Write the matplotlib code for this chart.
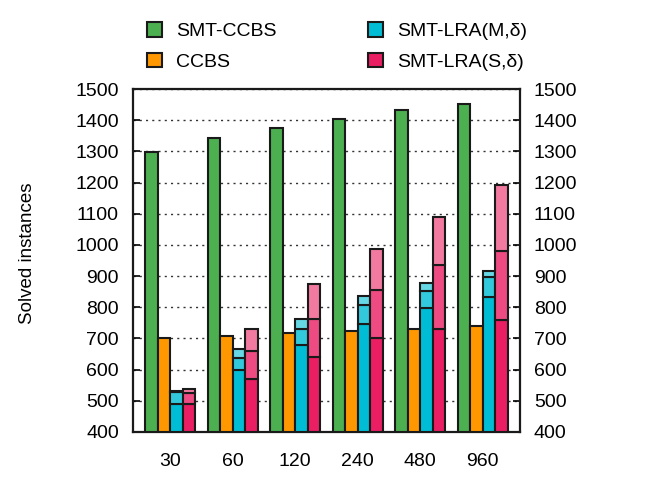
import matplotlib
matplotlib.use("Agg")
import matplotlib.pyplot as plt
import numpy as np
from matplotlib.patches import Patch

plt.rcParams['font.family'] = ['Liberation Sans', 'DejaVu Sans']

timeouts = ["30", "60", "120", "240", "480", "960"]
smt_ccbs = [1298, 1343, 1376, 1405, 1432, 1451]
ccbs = [701, 708, 718, 724, 731, 740]
# SMT-LRA(M,delta) cumulative levels (bottom segment top, middle top, total)
lra_m_lvl1 = [491, 598, 678, 745, 799, 832]
lra_m_lvl2 = [528, 636, 730, 808, 853, 897]
lra_m_lvl3 = [532, 665, 762, 836, 877, 916]
# SMT-LRA(S,delta)
lra_s_lvl1 = [491, 571, 639, 702, 730, 759]
lra_s_lvl2 = [524, 660, 761, 855, 934, 982]
lra_s_lvl3 = [538, 730, 876, 988, 1090, 1193]

green = "#4CAF50"
orange = "#FF9800"
cyan = ["#00BCD4", "#33C9DC", "#66D7E5"]
pink = ["#E91E63", "#ED4B82", "#F27AA0"]
edge = "#1a1a1a"
fs = 14

fig = plt.figure(figsize=(6.58, 4.96), dpi=100)
ax = fig.add_axes([132.7/658, 1 - 432/496, (520-132.7)/658, (432-89)/496])

x = np.arange(len(timeouts))
w = 0.2
base = 400
kw = dict(width=w, edgecolor=edge, linewidth=1.5, zorder=3)

ax.bar(x - 1.5*w, np.array(smt_ccbs) - base, bottom=base, color=green, **kw)
ax.bar(x - 0.5*w, np.array(ccbs) - base, bottom=base, color=orange, **kw)

def stacked(xpos, l1, l2, l3, cols):
    l1, l2, l3 = map(np.array, (l1, l2, l3))
    ax.bar(xpos, l1 - base, bottom=base, color=cols[0], **kw)
    ax.bar(xpos, l2 - l1, bottom=l1, color=cols[1], **kw)
    ax.bar(xpos, l3 - l2, bottom=l2, color=cols[2], **kw)

stacked(x + 0.5*w, lra_m_lvl1, lra_m_lvl2, lra_m_lvl3, cyan)
stacked(x + 1.5*w, lra_s_lvl1, lra_s_lvl2, lra_s_lvl3, pink)

ax.set_xlim(-0.6, 5.6)
ax.set_ylim(400, 1500)
ax.set_yticks(range(400, 1501, 100))
ax.set_xticks(x)
ax.set_xticklabels(timeouts)
ax.tick_params(axis='x', length=0, pad=15, labelsize=fs)
ax.tick_params(axis='y', direction='in', length=5, width=1.2, labelsize=fs,
               right=True, labelright=True, pad=10)
for s in ax.spines.values():
    s.set_linewidth(1.6)
    s.set_color(edge)
ax.yaxis.grid(True, linestyle=(0, (1.5, 3)), color='#333333', linewidth=1.0, zorder=0)
ax.set_axisbelow(True)
ax.set_ylabel("Solved instances", fontsize=13.5)
ax.yaxis.set_label_coords(-0.249, 0.522)

handles = [Patch(facecolor=green, edgecolor=edge, linewidth=1.5, label="SMT-CCBS"),
           Patch(facecolor=orange, edgecolor=edge, linewidth=1.5, label="CCBS"),
           Patch(facecolor=cyan[0], edgecolor=edge, linewidth=1.5, label="SMT-LRA(M,δ)"),
           Patch(facecolor=pink[0], edgecolor=edge, linewidth=1.5, label="SMT-LRA(S,δ)")]
fig.legend(handles=handles, ncol=2, loc='center', bbox_to_anchor=(337/658, 1 - 46.5/496),
           frameon=False, fontsize=fs, handlelength=0.78, handleheight=0.78,
           columnspacing=4.7, labelspacing=0.62, handletextpad=0.72)

fig.savefig("out.png", dpi=100)
